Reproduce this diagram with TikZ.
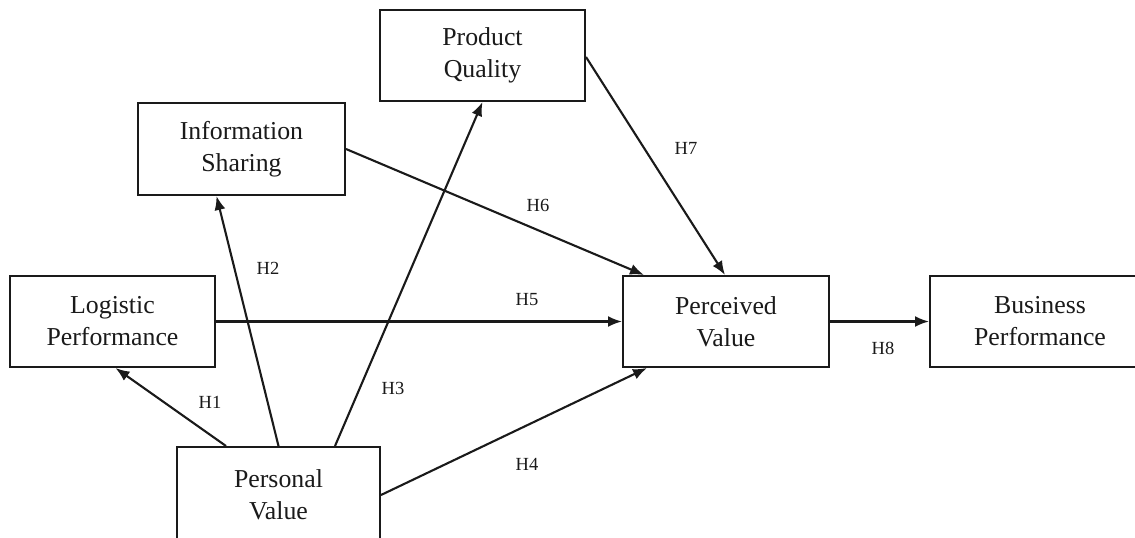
\documentclass[tikz,border=0pt]{standalone}
\usepackage{fontspec}
\setmainfont{Liberation Serif}
\usetikzlibrary{calc,arrows.meta}
\definecolor{ink}{HTML}{1A1A1A}
\tikzset{
  box/.style={draw=ink, line width=2pt, rectangle, inner sep=0pt, align=center,
    text=ink, font=\fontsize{25.8}{32}\selectfont},
  conn/.style={draw=ink, line width=2.1pt, -{Latex[length=14pt,width=11pt]}},
  hlab/.style={text=ink, font=\fontsize{18.5}{22}\selectfont, inner sep=0pt}
}
\begin{document}
\begin{tikzpicture}[x=1pt,y=-1pt]
\path[use as bounding box, clip] (0,0) rectangle (1135,538);
\fill[white] (0,0) rectangle (1135,538);
% boxes
\node[box, minimum width=205pt, minimum height=91pt] (pq) at (482.5,55.5) {Product\\Quality};
\node[box, minimum width=207pt, minimum height=92pt] (is) at (241.5,149) {Information\\Sharing};
\node[box, minimum width=205pt, minimum height=91pt] (lp) at (112.5,321.5) {Logistic\\Performance};
\node[box, minimum width=206pt, minimum height=91pt] (perv) at (726,321.5) {Perceived\\Value};
\node[box, minimum width=220pt, minimum height=91pt] (bp) at (1040,321.5) {Business\\Performance};
\node[box, minimum width=203pt, minimum height=96pt] (pers) at (278.5,495) {Personal\\Value};
% connectors
\draw[conn] ($(pers.north west)+(50,0)$) -- ($(lp.south)+(3,0)$);
\draw[conn] (pers.north) -- ($(is.south)+(-25,0)$);
\draw[conn] ($(pers.north)+(56.5,0)$) -- (pq.south);
\draw[conn] (pers.east) -- ($(perv.south west)+(25,0)$);
\draw[conn] (lp.east) -- (perv.west);
\draw[conn] (is.east) -- ($(perv.north west)+(22,0)$);
\draw[conn] ($(pq.east)+(0,1.5)$) -- ($(perv.north)+(-1,0)$);
\draw[conn] (perv.east) -- (bp.west);
% labels
\node[hlab] (h1) at (210,402) {H1};
\node[hlab] (h2) at (268,268) {H2};
\node[hlab] (h3) at (393,388) {H3};
\node[hlab] (h4) at (527,464) {H4};
\node[hlab] (h5) at (527,300) {H5};
\node[hlab] (h6) at (538,205) {H6};
\node[hlab] (h7) at (686,148) {H7};
\node[hlab] (h8) at (883,348) {H8};
\end{tikzpicture}
\end{document}
